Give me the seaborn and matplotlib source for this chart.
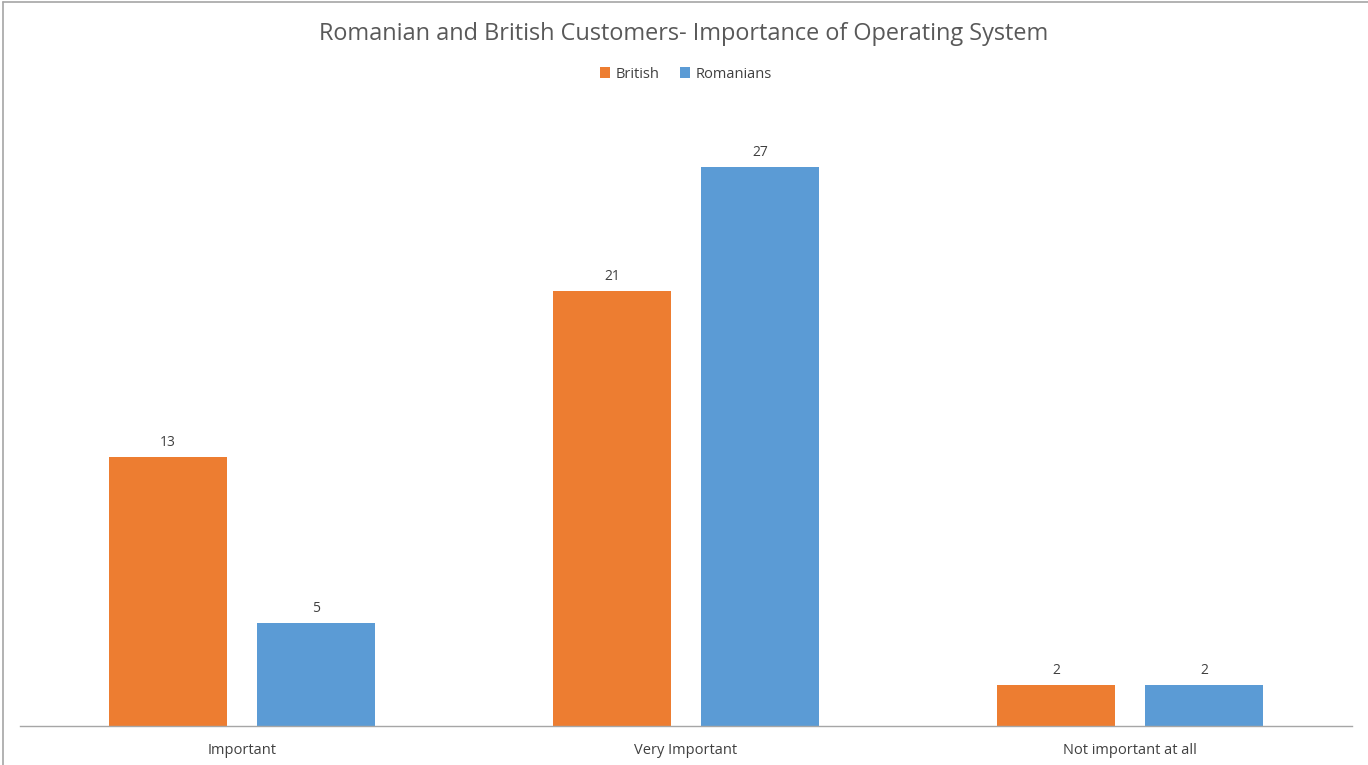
import matplotlib
matplotlib.use("Agg")
import matplotlib.pyplot as plt
import seaborn as sns
import pandas as pd
from matplotlib.lines import Line2D

categories = ["Important", "Very Important", "Not important at all"]
series_names = ["British", "Romanians"]
british = [13, 21, 2]
romanians = [5, 27, 2]
colors = ["#ED7D31", "#5B9BD5"]

df = pd.DataFrame({
    "category": categories * 2,
    "group": [series_names[0]] * 3 + [series_names[1]] * 3,
    "value": british + romanians,
})

sns.set_theme(style="white")
plt.rcParams["font.family"] = ["Open Sans", "DejaVu Sans"]

fig = plt.figure(figsize=(13.68, 7.65), dpi=100)
ax = fig.add_axes([20 / 1368, 1 - 726 / 765, (1352 - 20) / 1368, (726 - 105) / 765])

sns.barplot(data=df, x="category", y="value", hue="group", order=categories,
            hue_order=series_names, palette=colors, width=0.665, gap=0.2,
            saturation=1, linewidth=0, ax=ax, legend=True)

for cont in ax.containers:
    ax.bar_label(cont, fmt="%d", padding=5, fontsize=10, color="#404040")

ax.set_ylim(0, 30)
ax.set_xlim(-0.5, 2.5)
ax.set_xlabel("")
ax.set_ylabel("")
ax.set_yticks([])
for side in ["top", "right", "left"]:
    ax.spines[side].set_visible(False)
ax.spines["bottom"].set_color("#A6A6A6")
ax.spines["bottom"].set_linewidth(1.0)
ax.tick_params(axis="x", length=0, pad=12, labelsize=10.5, labelcolor="#404040")

leg = ax.legend(loc="center", bbox_to_anchor=(0.5, (726 - 74) / (726 - 105)),
                bbox_transform=ax.transAxes, ncol=2, frameon=False,
                fontsize=10.5, handlelength=0.7, handleheight=0.7,
                handletextpad=0.4, columnspacing=1.4)
for t in leg.get_texts():
    t.set_color("#404040")

fig.text(0.5, 1 - 33.5 / 765, "Romanian and British Customers- Importance of Operating System",
         ha="center", va="center", fontsize=16.9, color="#595959")

# chart frame: left and top edges
x0 = 2.5 / 1368
y1 = 1 - 1.5 / 765
fig.lines.append(Line2D([x0, x0], [0, y1], transform=fig.transFigure,
                        color="#A6A6A6", linewidth=1.2))
fig.lines.append(Line2D([x0, 1], [y1, y1], transform=fig.transFigure,
                        color="#A6A6A6", linewidth=1.2))

fig.savefig("out.png", dpi=100, facecolor="white")
